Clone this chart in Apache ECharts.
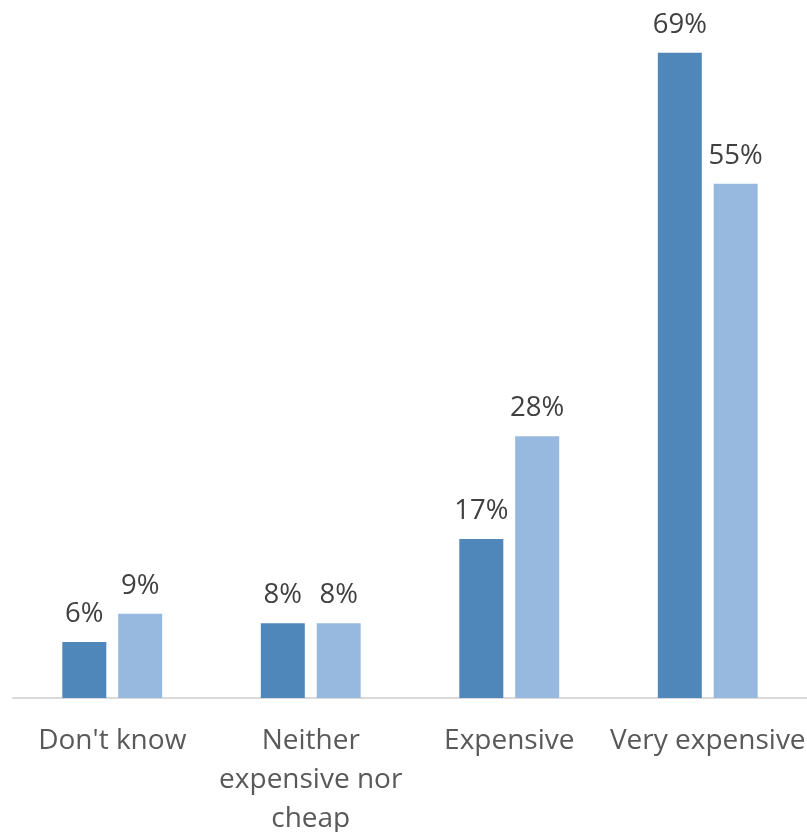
<!DOCTYPE html>
<html><head><meta charset="utf-8">
<script src="https://cdn.jsdelivr.net/npm/echarts@6/dist/echarts.min.js"></script>
<style>html,body{margin:0;padding:0;background:#fff;overflow:hidden}#c{width:807px;height:832px}</style>
</head><body><div id="c"></div>
<script>
const categories = ["Don't know", "Neither\nexpensive nor\ncheap", "Expensive", "Very expensive"];
const seriesA = [6, 8, 17, 69];
const seriesB = [9, 8, 28, 55];

const chart = echarts.init(document.getElementById('c'));
const labelStyle = {
  show: true, position: 'top', distance: 14,
  formatter: p => p.value + '%',
  fontFamily: 'Open Sans', fontSize: 27.5, color: '#404040'
};
chart.setOption({
  animation: false,
  grid: { left: 13, right: 0, top: 43.5, height: 654.5, containLabel: false, outerBoundsMode: 'none' },
  xAxis: {
    type: 'category', data: categories,
    axisLine: { lineStyle: { color: '#D9D9D9', width: 2 } },
    axisTick: { show: false },
    axisLabel: { fontFamily: 'Open Sans', fontSize: 28, color: '#595959', lineHeight: 39, margin: 24, interval: 0 }
  },
  yAxis: { type: 'value', min: 0, max: 70, show: false, splitLine: { show: false } },
  series: [
    { type: 'bar', data: seriesA, barWidth: 44, barGap: '27%', itemStyle: { color: '#4F87BA' }, label: labelStyle },
    { type: 'bar', data: seriesB, barWidth: 44, itemStyle: { color: '#98B9DF' }, label: labelStyle }
  ]
});
</script></body></html>
